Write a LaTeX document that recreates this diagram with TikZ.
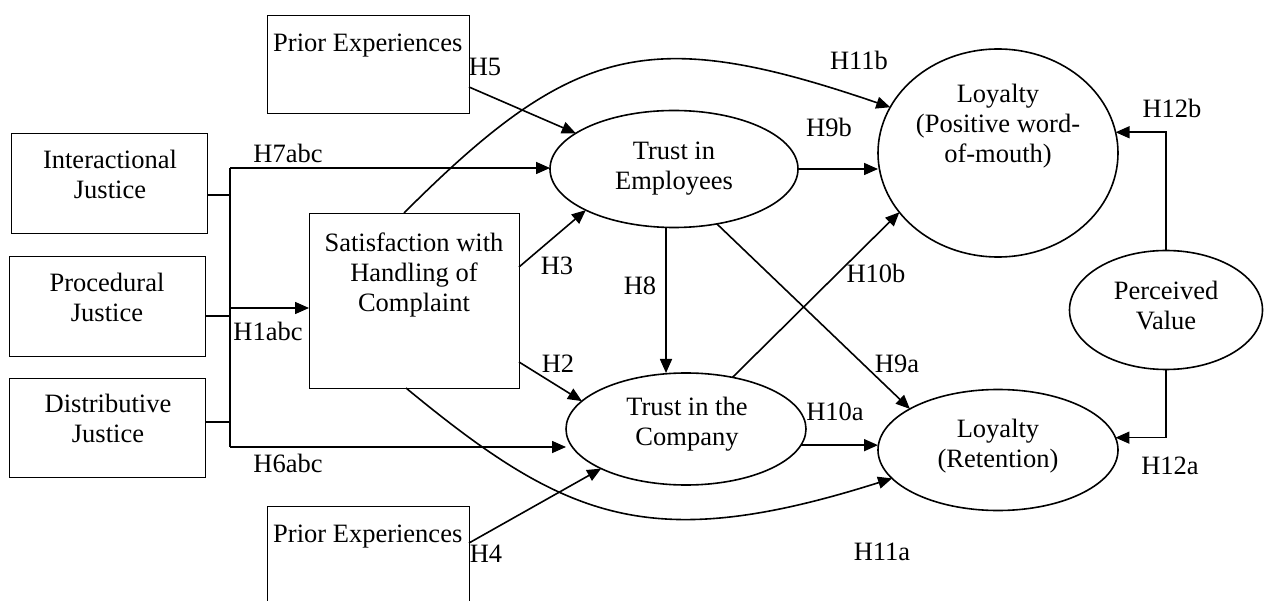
\documentclass[tikz,border=0pt]{standalone}
\usepackage{fontspec}
\setmainfont{Liberation Serif}
\newfontfamily\tmsfont{Liberation Serif}
\usetikzlibrary{arrows.meta,shapes.geometric,calc}
\begin{document}
\begin{tikzpicture}[x=1pt,y=-1pt,
  box/.style={draw, line width=0.9pt, rectangle, inner sep=0pt, outer sep=0pt},
  oval/.style={draw, line width=1.6pt, ellipse, inner sep=0pt, outer sep=0pt},
  txt/.style={align=center, inner sep=0pt, font=\tmsfont\fontsize{26.5}{30}\selectfont},
  hlab/.style={inner sep=0pt, font=\tmsfont\fontsize{26.5}{30}\selectfont},
  arr/.style={line width=1.6pt, -{Triangle[length=14pt,width=12pt]}},
  ln/.style={line width=1.6pt}]
\useasboundingbox (0,0) rectangle (1266,601);
% boxes
\node[box, minimum width=202pt, minimum height=98pt] (pe1) at (368,64) {};
\node[txt, anchor=base west] (pe1t) at (273,52) {Prior Experiences};
\node[box, minimum width=196pt, minimum height=100pt] (ij) at (109,183) {};
\node[txt] (ijt) at (110,174) {Interactional\\Justice};
\node[box, minimum width=196pt, minimum height=100pt] (pj) at (107,306) {};
\node[txt] (pjt) at (107,297) {Procedural\\Justice};
\node[box, minimum width=196pt, minimum height=99pt] (dj) at (107,427.5) {};
\node[txt] (djt) at (108,418) {Distributive\\Justice};
\node[box, minimum width=210pt, minimum height=175pt] (sat) at (414,300.5) {};
\node[txt] (satt) at (414,275) {Satisfaction with\\Handling of\\Complaint};
\node[box, minimum width=202pt, minimum height=98pt] (pe2) at (368,555) {};
\node[txt, anchor=base west] (pe2t) at (273,542) {Prior Experiences};
% ellipses
\node[oval, minimum width=248pt, minimum height=117pt] (te) at (674,169) {};
\node[txt] (tet) at (674,169) {Trust in\\Employees};
\node[oval, minimum width=240pt, minimum height=112pt] (tc) at (686,429) {};
\node[txt] (tct) at (687,424.5) {Trust in the\\Company};
\node[oval, minimum width=240pt, minimum height=208pt] (lw) at (998,153) {};
\node[txt] (lwt) at (998,126) {Loyalty\\(Positive word-\\of-mouth)};
\node[oval, minimum width=240pt, minimum height=121pt] (lr) at (998,450) {};
\node[txt] (lrt) at (998,446) {Loyalty\\(Retention)};
\node[oval, minimum width=193pt, minimum height=119pt] (pv) at (1166,310) {};
\node[txt] (pvt) at (1166,306) {Perceived\\Value};
% bus
\coordinate (bt) at (230,168);
\coordinate (bb) at (230,447);
\coordinate (bm) at (230,308);
\path ([yshift=-12pt]ij.east) coordinate (ije);
\path ([yshift=-10pt]pj.east) coordinate (pje);
\path ([yshift=5.5pt]dj.east) coordinate (dje);
\draw[ln] (bt) -- (bb);
\draw[ln] (ije) -- (ije -| bt);
\draw[ln] (pje) -- (pje -| bt);
\draw[ln] (dje) -- (dje -| bt);
\draw[arr] (bt) -- (bt -| te.west);
\draw[arr] (bb) -- (bb -| tc.west);
\draw[arr] (bm) -- (bm -| sat.west);
% straight arrows
\draw[arr] ([yshift=-23pt]pe1.east) -- (te.160);
\draw[arr] ([yshift=33.5pt]sat.east) -- (te.205);
\draw[arr] ([yshift=-61.5pt]sat.east) -- (tc.165);
\draw[arr] ([yshift=12pt]pe2.east) -- (tc.205);
\path ([xshift=-8pt]te.south) coordinate (h8s);
\draw[arr] (h8s) -- (h8s |- tc.north);
\draw[arr] (te.east) -- (te.east -| lw.west);
\draw[arr] (tc.-8) -- (tc.-8 -| lr.west);
\draw[arr] (te.-52) -- (lr.155);
\draw[arr] (tc.48) -- (lw.211);
% curves
\draw[arr] ([xshift=-10pt]sat.north) .. controls (574,43) and (650,25) .. (lw.157);
\draw[arr] ([xshift=-8pt]sat.south) .. controls (566,520) and (650,555) .. (lr.195);
% perceived value
\draw[arr] (pv.north) |- (lw.10);
\draw[arr] (pv.south) |- (lr.6);
% labels
\node[hlab] (l5) at (485,67) {H5};
\node[hlab] (l11b) at (859,60) {H11b};
\node[hlab] (l9b) at (829,127) {H9b};
\node[hlab] (l3) at (557,266) {H3};
\node[hlab] (l8) at (640,286) {H8};
\node[hlab] (l10b) at (876,273) {H10b};
\node[hlab] (l2) at (558,364) {H2};
\node[hlab] (l10a) at (835,412) {H10a};
\node[hlab] (l9a) at (897,364) {H9a};
\node[hlab] (l4) at (486,554) {H4};
\node[hlab] (l11a) at (882,552) {H11a};
\node[hlab] (l12b) at (1172,108) {H12b};
\node[hlab] (l12a) at (1170,466) {H12a};
\node[hlab] (l7) at (288,153) {H7abc};
\node[hlab] (l1) at (268,331) {H1abc};
\node[hlab] (l6) at (288,463) {H6abc};
\end{tikzpicture}
\end{document}
